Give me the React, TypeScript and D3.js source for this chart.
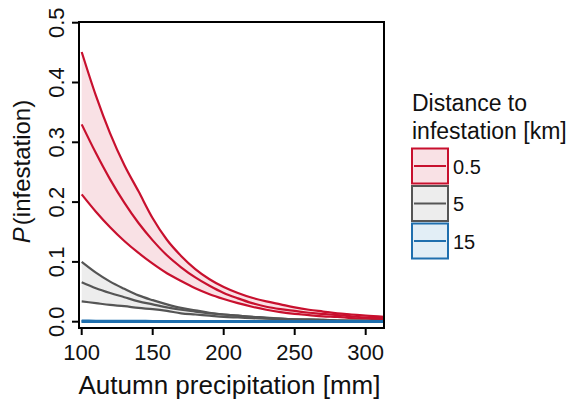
import React from "react";
import * as d3 from "d3";

const precip = [100, 110, 120, 130, 140, 150, 160, 170, 180, 190, 200, 210, 220, 230, 240, 250, 260, 270, 280, 290, 300, 313];

const redUpper = [0.451, 0.378, 0.315, 0.262, 0.218, 0.173, 0.137, 0.110, 0.088, 0.071, 0.058, 0.048, 0.040, 0.034, 0.029, 0.024, 0.020, 0.017, 0.014, 0.012, 0.010, 0.008];
const redMid = [0.330, 0.282, 0.238, 0.199, 0.165, 0.136, 0.111, 0.091, 0.074, 0.060, 0.048, 0.039, 0.031, 0.025, 0.021, 0.018, 0.015, 0.013, 0.011, 0.009, 0.007, 0.006];
const redLower = [0.213, 0.184, 0.158, 0.135, 0.115, 0.097, 0.081, 0.068, 0.056, 0.046, 0.038, 0.031, 0.025, 0.020, 0.016, 0.013, 0.011, 0.009, 0.008, 0.006, 0.005, 0.004];

const grayUpper = [0.100, 0.082, 0.067, 0.055, 0.044, 0.036, 0.029, 0.023, 0.019, 0.015, 0.012, 0.010, 0.008, 0.006, 0.005, 0.004, 0.003, 0.003, 0.002, 0.002, 0.001, 0.001];
const grayMid = [0.066, 0.056, 0.048, 0.041, 0.034, 0.029, 0.024, 0.020, 0.017, 0.014, 0.012, 0.010, 0.008, 0.007, 0.005, 0.004, 0.004, 0.003, 0.002, 0.002, 0.002, 0.001];
const grayLower = [0.034, 0.031, 0.028, 0.026, 0.023, 0.021, 0.018, 0.014, 0.012, 0.010, 0.008, 0.007, 0.006, 0.005, 0.004, 0.003, 0.003, 0.002, 0.002, 0.001, 0.001, 0.001];

const blueUpper = [0.0012, 0.0011, 0.0010, 0.0009, 0.0008, 0.0007, 0.0006, 0.0005, 0.0005, 0.0004, 0.0004, 0.0003, 0.0003, 0.0003, 0.0002, 0.0002, 0.0002, 0.0002, 0.0001, 0.0001, 0.0001, 0.0001];
const blueMid = [0.0007, 0.0006, 0.0006, 0.0005, 0.0005, 0.0004, 0.0004, 0.0003, 0.0003, 0.0003, 0.0002, 0.0002, 0.0002, 0.0002, 0.0001, 0.0001, 0.0001, 0.0001, 0.0001, 0.0001, 0.0001, 0.0001];
const blueLower = [0.0003, 0.0003, 0.0003, 0.0002, 0.0002, 0.0002, 0.0002, 0.0002, 0.0001, 0.0001, 0.0001, 0.0001, 0.0001, 0.0001, 0.0001, 0.0001, 0.0000, 0.0000, 0.0000, 0.0000, 0.0000, 0.0000];

const xTicks = [100, 150, 200, 250, 300];
const yTicks = [0, 0.1, 0.2, 0.3, 0.4, 0.5];
const legendLabels = ["0.5", "5", "15"];

const groups = [
  { label: legendLabels[0], upper: redUpper, mid: redMid, lower: redLower, line: "#C8102E", fill: "#F9E1E5", lw: 2.2 },
  { label: legendLabels[1], upper: grayUpper, mid: grayMid, lower: grayLower, line: "#555555", fill: "#EDEDED", lw: 2.2 },
  { label: legendLabels[2], upper: blueUpper, mid: blueMid, lower: blueLower, line: "#1F6FAE", fill: "#E2EEF6", lw: 2.8 },
];

const FONT = "'Liberation Sans', Arial, Helvetica, sans-serif";

export default function App() {
  const W = 570, H = 402;
  const box = { left: 79, right: 384, top: 22, bottom: 328 };
  const x = d3.scaleLinear().domain([100, 300]).range([81.7, 365.7]);
  const y = d3.scaleLinear().domain([0, 0.5]).range([321.7, 22.7]);

  const idx = precip.map((_, i) => i);
  const area = (g: any) =>
    d3.area<number>().x((i) => x(precip[i])).y0((i) => y(g.lower[i])).y1((i) => y(g.upper[i])).curve(d3.curveMonotoneX)(idx) || "";
  const line = (arr: number[]) =>
    d3.line<number>().x((i) => x(precip[i])).y((i) => y(arr[i])).curve(d3.curveMonotoneX)(idx) || "";

  const legendX = 412;
  const legendY0 = 148.5;
  const legendStep = 37.5;
  const bw = 36, bh = 35;

  return (
    <svg width={W} height={H} style={{ position: "absolute", left: 0, top: 0 }} fontFamily={FONT}>
      <rect x={0} y={0} width={W} height={H} fill="#fff" />
      <defs>
        <clipPath id="plotclip">
          <rect x={box.left} y={box.top} width={box.right - box.left} height={box.bottom - box.top} />
        </clipPath>
      </defs>
      <g clipPath="url(#plotclip)">
        {groups.map((g, k) => (
          <path key={"a" + k} d={area(g)} fill={g.fill} stroke="none" />
        ))}
        {groups.map((g, k) => (
          <g key={"l" + k}>
            {[g.upper, g.mid, g.lower].map((arr, j) => (
              <path key={j} d={line(arr)} fill="none" stroke={g.line} strokeWidth={g.lw} />
            ))}
          </g>
        ))}
      </g>
      <rect x={box.left} y={box.top} width={box.right - box.left} height={box.bottom - box.top} fill="none" stroke="#000" strokeWidth={2} />
      {xTicks.map((t) => (
        <g key={"xt" + t}>
          <line x1={x(t)} x2={x(t)} y1={box.bottom} y2={box.bottom + 7} stroke="#000" strokeWidth={2} />
          <text x={x(t)} y={360} textAnchor="middle" fontSize={22} fill="#111">{t}</text>
        </g>
      ))}
      {yTicks.map((t) => (
        <g key={"yt" + t}>
          <line x1={box.left - 7} x2={box.left} y1={y(t)} y2={y(t)} stroke="#000" strokeWidth={2} />
          <text transform={`translate(64,${y(t)}) rotate(-90)`} textAnchor="middle" fontSize={22} fill="#111">{t.toFixed(1)}</text>
        </g>
      ))}
      <text x={(box.left + box.right) / 2 - 2} y={394} textAnchor="middle" fontSize={26} fill="#111">Autumn precipitation [mm]</text>
      <text transform={`translate(30,171.5) rotate(-90)`} textAnchor="middle" fontSize={24} fill="#111">
        <tspan fontStyle="italic">P</tspan>
        <tspan dx={2}>(infestation)</tspan>
      </text>
      <text x={legendX} y={111} fontSize={23} fill="#111">Distance to</text>
      <text x={legendX} y={139} fontSize={23} fill="#111">infestation [km]</text>
      {groups.map((g, k) => {
        const by = legendY0 + k * legendStep;
        return (
          <g key={"lg" + k}>
            <rect x={legendX} y={by} width={bw} height={bh} fill={g.fill} stroke={g.line} strokeWidth={2} />
            <line x1={legendX + 2} x2={legendX + bw - 2} y1={by + bh / 2} y2={by + bh / 2} stroke={g.line} strokeWidth={2} />
            <text x={legendX + 41} y={by + bh / 2 + 7.5} fontSize={20} fill="#111">{g.label}</text>
          </g>
        );
      })}
    </svg>
  );
}
